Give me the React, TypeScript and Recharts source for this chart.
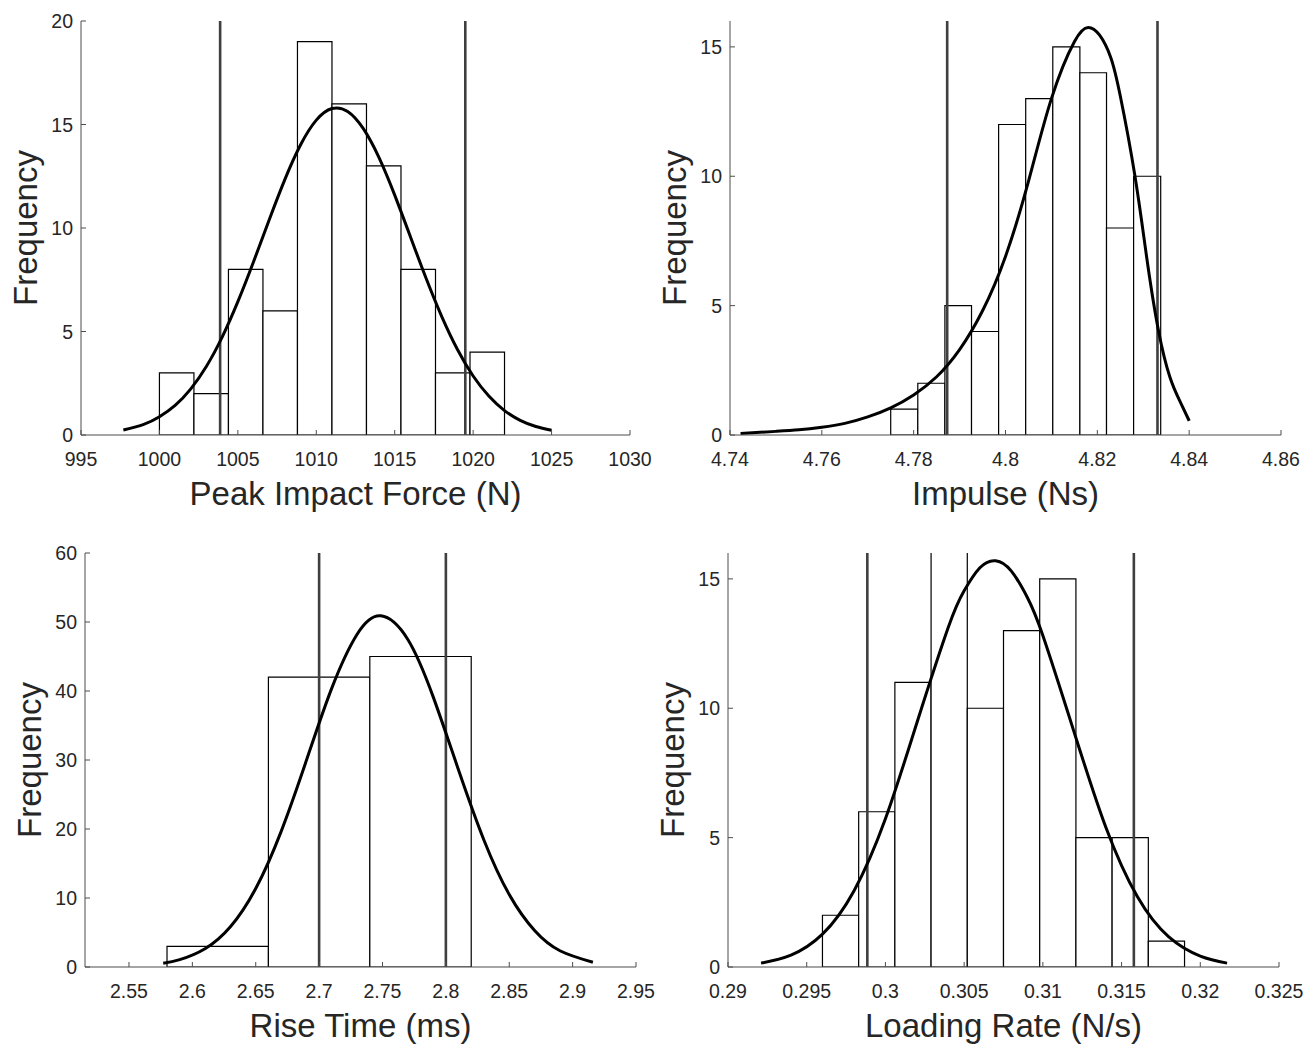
import {
  ComposedChart,
  Line,
  XAxis,
  YAxis,
  ReferenceArea,
  ReferenceLine,
} from "recharts";

const FONT = '"Liberation Sans", Arial, sans-serif';
const INK = "#262626";
const FRAME = "#4d4d4d";
const TICK_LEN = 5;

/* ---------- Peak impact force ---------- */
const forceEdges = [1000, 1002.2, 1004.4, 1006.6, 1008.8, 1011, 1013.2, 1015.4, 1017.6, 1019.8, 1022];
const forceCounts = [3, 2, 8, 6, 19, 16, 13, 8, 3, 4];
const forceLimits = [1003.87, 1019.5];
const forceCurveX = [997.7, 999, 1000, 1001, 1002, 1003, 1004, 1005, 1006, 1007, 1008, 1009, 1010, 1011, 1012, 1013, 1014, 1015, 1016, 1017, 1018, 1019, 1020, 1021, 1022, 1023, 1024, 1025];
const forceCurveY = [0.24, 0.51, 0.88, 1.43, 2.23, 3.32, 4.73, 6.44, 8.37, 10.4, 12.35, 14.02, 15.21, 15.77, 15.63, 14.8, 13.4, 11.59, 9.58, 7.57, 5.72, 4.13, 2.85, 1.88, 1.18, 0.71, 0.41, 0.23];
const forceXTicks = [995, 1000, 1005, 1010, 1015, 1020, 1025, 1030];
const forceYTicks = [0, 5, 10, 15, 20];

/* ---------- Impulse ---------- */
const impulseEdges = [4.775, 4.7809, 4.7868, 4.7926, 4.7985, 4.8044, 4.8103, 4.8162, 4.822, 4.8279, 4.8338];
const impulseCounts = [1, 2, 5, 4, 12, 13, 15, 14, 8, 10];
const impulseLimits = [4.7873, 4.8331];
const impulseCurveX = [4.7423, 4.75, 4.755, 4.76, 4.765, 4.77, 4.775, 4.78, 4.785, 4.79, 4.795, 4.8, 4.805, 4.81, 4.815, 4.818, 4.8205, 4.8229, 4.825, 4.8282, 4.8308, 4.8333, 4.8358, 4.838, 4.84];
const impulseCurveY = [0.06, 0.14, 0.2, 0.3, 0.45, 0.7, 1.05, 1.55, 2.25, 3.3, 4.8, 6.9, 9.8, 13.0, 15.2, 15.75, 15.45, 14.6, 13.1, 10.0, 6.8, 4.05, 2.24, 1.3, 0.55];
const impulseXTicks = [4.74, 4.76, 4.78, 4.8, 4.82, 4.84, 4.86];
const impulseYTicks = [0, 5, 10, 15];

/* ---------- Rise time ---------- */
const riseEdges = [2.58, 2.66, 2.74, 2.82];
const riseCounts = [3, 42, 45];
const riseLimits = [2.7, 2.8];
const riseCurveX = [2.577, 2.59, 2.61, 2.63, 2.65, 2.67, 2.69, 2.71, 2.73, 2.7487, 2.77, 2.79, 2.81, 2.83, 2.85, 2.87, 2.89, 2.916];
const riseCurveY = [0.55, 1.06, 2.64, 5.82, 11.37, 19.62, 29.95, 40.42, 48.23, 50.9, 47.47, 39.15, 28.55, 18.41, 10.5, 5.29, 2.36, 0.69];
const riseXTicks = [2.55, 2.6, 2.65, 2.7, 2.75, 2.8, 2.85, 2.9, 2.95];
const riseYTicks = [0, 10, 20, 30, 40, 50, 60];

/* ---------- Loading rate ---------- */
const loadEdges = [0.296, 0.2983, 0.3006, 0.3029, 0.3052, 0.3075, 0.3098, 0.3121, 0.3144, 0.3167, 0.319];
const loadCounts = [2, 6, 11, 18, 10, 13, 15, 5, 5, 1];
const loadLimits = [0.29885, 0.31578];
const loadCurveX = [0.2921, 0.294, 0.296, 0.298, 0.3, 0.302, 0.304, 0.305, 0.306, 0.307, 0.308, 0.309, 0.31, 0.312, 0.314, 0.316, 0.318, 0.32, 0.3217];
const loadCurveY = [0.15, 0.46, 1.27, 2.94, 5.73, 9.44, 13.14, 14.54, 15.43, 15.7, 15.3, 14.3, 12.81, 9.05, 5.4, 2.72, 1.16, 0.42, 0.15];
const loadXTicks = [0.29, 0.295, 0.3, 0.305, 0.31, 0.315, 0.32, 0.325];
const loadYTicks = [0, 5, 10, 15];

type PanelProps = {
  left: number;
  top: number;
  plotW: number;
  plotH: number;
  xDomain: [number, number];
  xTicks: number[];
  yMax: number;
  yTicks: number[];
  edges: number[];
  counts: number[];
  limits: number[];
  curveX: number[];
  curveY: number[];
  title: string;
};

const PAD_L = 80;
const PAD_T = 10;
const PAD_R = 40;
const PAD_B = 80;

type Side = "bottom" | "top" | "left" | "right";

// inward MATLAB-style tick, optional label
const makeTick = (side: Side, withLabel: boolean) => (props: any) => {
  const { x, y, payload } = props;
  let line = { x1: x, y1: y, x2: x, y2: y };
  if (side === "bottom") line.y2 = y - TICK_LEN;
  if (side === "top") line.y2 = y + TICK_LEN;
  if (side === "left") line.x2 = x + TICK_LEN;
  if (side === "right") line.x2 = x - TICK_LEN;
  return (
    <g>
      <line {...line} stroke={FRAME} strokeWidth={1} />
      {withLabel && side === "bottom" && (
        <text
          x={x}
          y={y + 31}
          textAnchor="middle"
          fontSize={19.5}
          fill={INK}
          fontFamily={FONT}
        >
          {String(payload.value)}
        </text>
      )}
      {withLabel && side === "left" && (
        <text
          x={x - 8}
          y={y}
          textAnchor="end"
          dominantBaseline="central"
          fontSize={19.5}
          fill={INK}
          fontFamily={FONT}
        >
          {String(payload.value)}
        </text>
      )}
    </g>
  );
};

function HistPanel(p: PanelProps) {
  const data = p.curveX.map((x, i) => ({ x, y: p.curveY[i] }));
  const bins = p.counts.map((c, i) => ({
    x1: p.edges[i],
    x2: p.edges[i + 1],
    c,
  }));

  return (
    <div
      style={{
        position: "absolute",
        left: p.left - PAD_L,
        top: p.top - PAD_T,
      }}
    >
      <ComposedChart
        width={p.plotW + PAD_L + PAD_R}
        height={p.plotH + PAD_T + PAD_B}
        data={data}
        margin={{ top: PAD_T, right: PAD_R, bottom: 0, left: 0 }}
      >
        <XAxis
          dataKey="x"
          type="number"
          domain={p.xDomain}
          allowDataOverflow
          ticks={p.xTicks}
          interval={0}
          height={PAD_B}
          stroke={FRAME}
          tickLine={false}
          tickSize={0}
          tickMargin={0}
          tick={makeTick("bottom", true)}
          label={{
            content: ({ viewBox }: any) => (
              <text
                x={viewBox.x + viewBox.width / 2}
                y={viewBox.y + 70}
                textAnchor="middle"
                fontSize={33}
                fill={INK}
                fontFamily={FONT}
              >
                {p.title}
              </text>
            ),
          }}
        />
        <XAxis
          xAxisId="top"
          orientation="top"
          dataKey="x"
          type="number"
          domain={p.xDomain}
          allowDataOverflow
          ticks={p.xTicks}
          interval={0}
          height={0}
          stroke={FRAME}
          tickLine={false}
          tickSize={0}
          tickMargin={0}
          tick={makeTick("top", false)}
        />
        <YAxis
          type="number"
          domain={[0, p.yMax]}
          allowDataOverflow
          ticks={p.yTicks}
          interval={0}
          width={PAD_L}
          stroke={FRAME}
          tickLine={false}
          tickSize={0}
          tickMargin={0}
          tick={makeTick("left", true)}
          label={{
            content: ({ viewBox }: any) => {
              const cx = viewBox.x + viewBox.width - 56;
              const cy = viewBox.y + viewBox.height / 2;
              return (
                <text
                  x={cx}
                  y={cy}
                  transform={`rotate(-90 ${cx} ${cy})`}
                  textAnchor="middle"
                  dominantBaseline="central"
                  fontSize={33}
                  fill={INK}
                  fontFamily={FONT}
                >
                  Frequency
                </text>
              );
            },
          }}
        />
        <YAxis
          yAxisId="right"
          orientation="right"
          type="number"
          domain={[0, p.yMax]}
          allowDataOverflow
          ticks={p.yTicks}
          interval={0}
          width={0}
          stroke={FRAME}
          tickLine={false}
          tickSize={0}
          tickMargin={0}
          tick={makeTick("right", false)}
        />

        {/* histogram bins */}
        {bins.map((b) => (
          <ReferenceArea
            key={b.x1}
            x1={b.x1}
            x2={b.x2}
            y1={0}
            y2={b.c}
            fill="#ffffff"
            fillOpacity={1}
            stroke="#000000"
            strokeWidth={1.2}
            ifOverflow="hidden"
          />
        ))}

        {/* limit lines */}
        {p.limits.map((v) => (
          <ReferenceLine
            key={v}
            x={v}
            stroke="#3f3f3f"
            strokeWidth={2.6}
            ifOverflow="hidden"
          />
        ))}

        {/* fitted curve */}
        <Line
          type="natural"
          dataKey="y"
          stroke="#000000"
          strokeWidth={3}
          dot={false}
          activeDot={false}
          isAnimationActive={false}
        />
      </ComposedChart>
    </div>
  );
}

export default function App() {
  return (
    <div
      style={{
        position: "absolute",
        left: 0,
        top: 0,
        width: 1306,
        height: 1044,
        background: "#ffffff",
        fontFamily: FONT,
      }}
    >
      <HistPanel
        left={81}
        top={21}
        plotW={549}
        plotH={414}
        xDomain={[995, 1030]}
        xTicks={forceXTicks}
        yMax={20}
        yTicks={forceYTicks}
        edges={forceEdges}
        counts={forceCounts}
        limits={forceLimits}
        curveX={forceCurveX}
        curveY={forceCurveY}
        title="Peak Impact Force (N)"
      />
      <HistPanel
        left={730}
        top={21}
        plotW={551}
        plotH={414}
        xDomain={[4.74, 4.86]}
        xTicks={impulseXTicks}
        yMax={16}
        yTicks={impulseYTicks}
        edges={impulseEdges}
        counts={impulseCounts}
        limits={impulseLimits}
        curveX={impulseCurveX}
        curveY={impulseCurveY}
        title="Impulse (Ns)"
      />
      <HistPanel
        left={85}
        top={553}
        plotW={551}
        plotH={414}
        xDomain={[2.5153, 2.95]}
        xTicks={riseXTicks}
        yMax={60}
        yTicks={riseYTicks}
        edges={riseEdges}
        counts={riseCounts}
        limits={riseLimits}
        curveX={riseCurveX}
        curveY={riseCurveY}
        title="Rise Time (ms)"
      />
      <HistPanel
        left={728}
        top={553}
        plotW={551}
        plotH={414}
        xDomain={[0.29, 0.325]}
        xTicks={loadXTicks}
        yMax={16}
        yTicks={loadYTicks}
        edges={loadEdges}
        counts={loadCounts}
        limits={loadLimits}
        curveX={loadCurveX}
        curveY={loadCurveY}
        title="Loading Rate (N/s)"
      />
    </div>
  );
}
